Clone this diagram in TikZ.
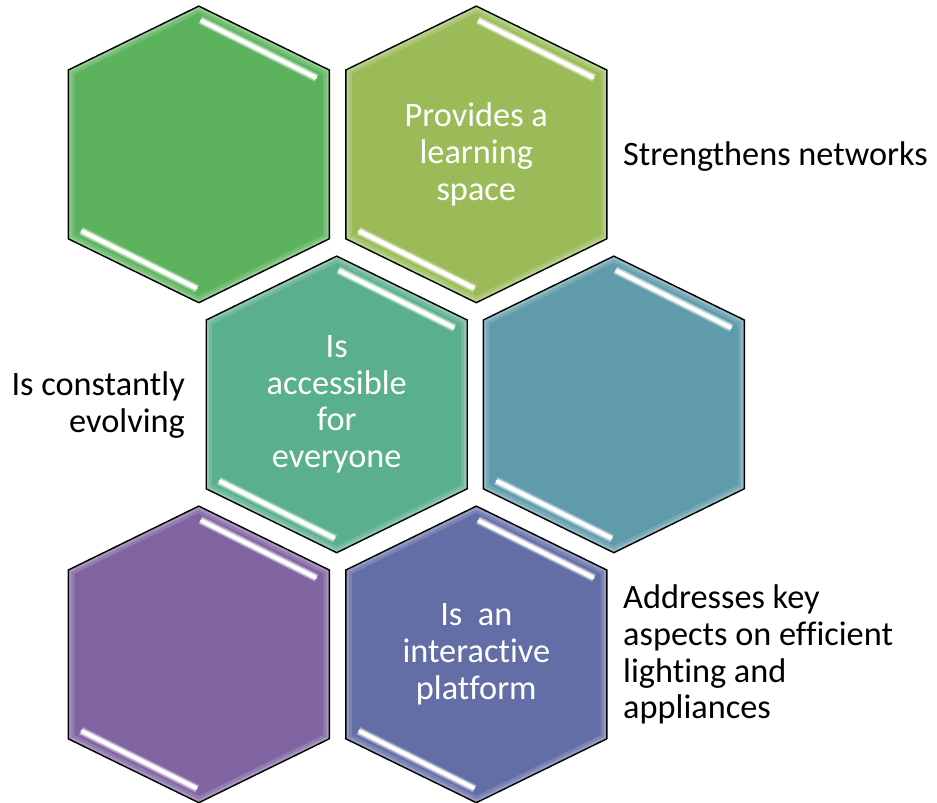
\documentclass[tikz,border=0pt]{standalone}
\usepackage{fontspec}
\setmainfont{Carlito}[Ligatures={NoCommon}]
\definecolor{hgreen}{HTML}{5DB35D}
\definecolor{holive}{HTML}{9BBB59}
\definecolor{hteal}{HTML}{5AAF8C}
\definecolor{hblue}{HTML}{5F9BAA}
\definecolor{hpurple}{HTML}{8064A2}
\definecolor{hindigo}{HTML}{636EA6}
\tikzset{
  hexcell/.pic={
    \fill[#1] (0,-148.3) -- (130.5,-84.4) -- (130.5,84.4) -- (0,148.3) -- (-130.5,84.4) -- (-130.5,-84.4) -- cycle;
    \begin{scope}
      \clip (0,-148.3) -- (130.5,-84.4) -- (130.5,84.4) -- (0,148.3) -- (-130.5,84.4) -- (-130.5,-84.4) -- cycle;
      \draw[white, opacity=0.15, line width=12] (0,-148.3) -- (130.5,-84.4) -- (130.5,84.4) -- (0,148.3) -- (-130.5,84.4) -- (-130.5,-84.4) -- cycle;
      \draw[white, opacity=0.2, line width=6] (0,-148.3) -- (130.5,-84.4) -- (130.5,84.4) -- (0,148.3) -- (-130.5,84.4) -- (-130.5,-84.4) -- cycle;
    \end{scope}
    \draw[black, line width=1.4, line join=miter] (0,-148.3) -- (130.5,-84.4) -- (130.5,84.4) -- (0,148.3) -- (-130.5,84.4) -- (-130.5,-84.4) -- cycle;
    \draw[white, opacity=0.3, line width=8.5] (1.5,-134.4) -- (117.9,-76.4);
    \draw[white, opacity=0.5, line width=6] (2,-134.1) -- (117.4,-76.6);
    \draw[white, line width=3.8, line cap=round] (3,-133.4) -- (116.5,-77);
    \draw[white, opacity=0.3, line width=8.5] (-117.9,76.4) -- (-1.5,134.4);
    \draw[white, opacity=0.5, line width=6] (-117.4,76.6) -- (-2,134.1);
    \draw[white, line width=3.8, line cap=round] (-116.5,77) -- (-3,133.4);
  },
  intext/.style={text=white, align=center, inner sep=0pt, font=\fontsize{34.3}{36.7}\selectfont},
  outtext/.style={text=black, inner sep=0pt, font=\fontsize{34.3}{36.7}\selectfont}
}
\begin{document}
\begin{tikzpicture}[x=1pt,y=-1pt]
  \useasboundingbox (0,0) rectangle (937,803);
  \coordinate (h1) at (198.8,154.4);
  \coordinate (h2) at (476.3,154.4);
  \coordinate (h3) at (336.7,404.4);
  \coordinate (h4) at (613.8,404.4);
  \coordinate (h5) at (198.8,654.4);
  \coordinate (h6) at (476.3,654.4);
  \pic at (h1) {hexcell=hgreen};
  \pic at (h2) {hexcell=holive};
  \pic at (h3) {hexcell=hteal};
  \pic at (h4) {hexcell=hblue};
  \pic at (h5) {hexcell=hpurple};
  \pic at (h6) {hexcell=hindigo};
  \node[intext] (t2) at (h2) {Provides a\\learning\\space};
  \node[intext] (t3) at (h3) {Is\\accessible\\for\\everyone};
  \node[intext] (t6) at (h6) {Is\ \ an\\interactive\\platform};
  \node[outtext, anchor=base west] (o1) at (623,165) {Strengthens networks};
  \node[outtext, align=right, anchor=east] (o2) at (185,405) {Is constantly\\evolving};
  \node[outtext, align=left, anchor=west] (o3) at (623,654.7) {Addresses key\\aspects on efficient\\lighting and\\appliances};
\end{tikzpicture}
\end{document}
